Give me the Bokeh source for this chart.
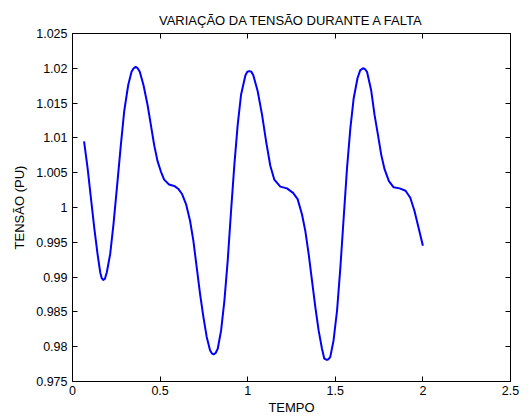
from bokeh.plotting import figure
from bokeh.models import (ColumnDataSource, Range1d, LinearAxis, FixedTicker,
                          CustomJSTickFormatter, CustomLabelingPolicy)
from bokeh.embed import file_html
from bokeh.resources import INLINE

# Voltage (p.u.) during the fault, sampled over time
tempo = [0.066, 0.086, 0.105, 0.124, 0.143, 0.158, 0.166, 0.175, 0.185, 0.196,
         0.215, 0.234, 0.257, 0.276, 0.295, 0.318, 0.337, 0.349, 0.361, 0.372,
         0.384, 0.405, 0.428, 0.447, 0.466, 0.485, 0.504, 0.523, 0.551, 0.580,
         0.603, 0.626, 0.648, 0.671, 0.690, 0.709, 0.728, 0.747, 0.766, 0.785,
         0.795, 0.806, 0.817, 0.829, 0.848, 0.867, 0.886, 0.905, 0.924, 0.943,
         0.962, 0.987, 0.998, 1.010, 1.021, 1.032, 1.057, 1.082, 1.105, 1.129,
         1.152, 1.186, 1.224, 1.259, 1.285, 1.310, 1.329, 1.348, 1.367, 1.386,
         1.405, 1.424, 1.437, 1.452, 1.461, 1.471, 1.490, 1.510, 1.529, 1.548,
         1.567, 1.586, 1.605, 1.627, 1.642, 1.658, 1.669, 1.681, 1.705, 1.724,
         1.743, 1.762, 1.781, 1.806, 1.833, 1.867, 1.901, 1.928, 1.952, 1.977,
         2.000]
tensao = [1.0095, 1.0057, 1.0014, 0.9971, 0.9933, 0.9907, 0.9899, 0.9896, 0.98975, 0.9907,
          0.9933, 0.9976, 1.0038, 1.0090, 1.0138, 1.0176, 1.0195, 1.0200, 1.0202, 1.0200,
          1.0195, 1.0176, 1.0148, 1.0119, 1.0090, 1.0067, 1.0052, 1.0040, 1.0033, 1.0031,
          1.0027, 1.0019, 1.0005, 0.9981, 0.9952, 0.9914, 0.9876, 0.9843, 0.9814, 0.9795,
          0.97905, 0.9789, 0.9791, 0.9797, 0.9823, 0.9866, 0.9924, 0.9995, 1.0062, 1.0119,
          1.0162, 1.0190, 1.0195, 1.0196, 1.0195, 1.0190, 1.0167, 1.0133, 1.0095, 1.0060,
          1.0040, 1.0030, 1.00275, 1.0021, 1.0012, 0.9990, 0.9966, 0.9933, 0.9895, 0.9857,
          0.9823, 0.9797, 0.9783, 0.9781, 0.9782, 0.9785, 0.9809, 0.9852, 0.9914, 0.9986,
          1.0057, 1.0114, 1.0157, 1.0186, 1.0197, 1.0200, 1.0199, 1.0195, 1.0168, 1.0133,
          1.0105, 1.0076, 1.0055, 1.0038, 1.0029, 1.00275, 1.0024, 1.0014, 0.9995, 0.9969,
          0.9945]

x_ticks = [0, 0.5, 1.0, 1.5, 2.0, 2.5]
y_ticks = [0.975, 0.98, 0.985, 0.99, 0.995, 1.0, 1.005, 1.01, 1.015, 1.02, 1.025]

FONT = "Liberation Sans"

p = figure(width=531, height=417, output_backend="svg", toolbar_location=None,
           x_range=Range1d(0, 2.5), y_range=Range1d(0.975, 1.025),
           x_axis_type=None, y_axis_type=None,
           min_border_left=72, min_border_right=21,
           min_border_top=33, min_border_bottom=35)

p.background_fill_color = "white"
p.border_fill_color = "white"
p.outline_line_color = "black"
p.outline_line_width = 1
p.xgrid.visible = False
p.ygrid.visible = False

p.title.text = "VARIAÇÃO DA TENSÃO DURANTE A FALTA"
p.title.align = "center"
p.title.vertical_align = "middle"
p.title.text_font = FONT
p.title.text_font_size = "13px"
p.title.text_font_style = "normal"
p.title.text_color = "black"

# trim trailing zeros like 1.000 -> 1, 0.980 -> 0.98
fmt = CustomJSTickFormatter(code="""
    return tick.toFixed(3).replace(/0+$/, '').replace(/\\.$/, '');
""")

# the box axes (top/right) only carry inward ticks, no labels
blank = CustomJSTickFormatter(code="return '';")
no_labels = CustomLabelingPolicy(code="""
    for (const i of Array.from(indices)) { indices.unset(i) }
    return indices
""")


def style_axis(ax, size="12.5px"):
    ax.axis_line_color = "black"
    ax.major_tick_line_color = "black"
    ax.major_tick_in = 5
    ax.major_tick_out = 0
    ax.minor_tick_line_color = None
    ax.major_label_text_font = FONT
    ax.major_label_text_color = "black"
    ax.major_label_text_font_size = size
    ax.axis_label_text_font = FONT
    ax.axis_label_text_font_style = "normal"
    ax.axis_label_text_color = "black"
    ax.axis_label_text_font_size = "13px"


xb = LinearAxis(ticker=FixedTicker(ticks=x_ticks), formatter=fmt, axis_label="TEMPO")
style_axis(xb)
xb.major_label_standoff = 4
xb.axis_label_standoff = 2
p.add_layout(xb, "below")

yl = LinearAxis(ticker=FixedTicker(ticks=y_ticks), formatter=fmt, axis_label="TENSÃO (PU)")
style_axis(yl)
yl.major_label_standoff = 5
yl.axis_label_standoff = 6
p.add_layout(yl, "left")

xt = LinearAxis(ticker=FixedTicker(ticks=x_ticks), formatter=blank,
                major_label_policy=no_labels)
style_axis(xt, "0px")
xt.major_label_standoff = 0
p.add_layout(xt, "above")

yr = LinearAxis(ticker=FixedTicker(ticks=y_ticks), formatter=blank,
                major_label_policy=no_labels)
style_axis(yr, "0px")
yr.major_label_standoff = 0
p.add_layout(yr, "right")

src = ColumnDataSource(data=dict(t=tempo, v=tensao))
p.line("t", "v", source=src, line_color="#0000ff", line_width=2,
       line_join="round")

open("out.html", "w").write(file_html(p, INLINE))
